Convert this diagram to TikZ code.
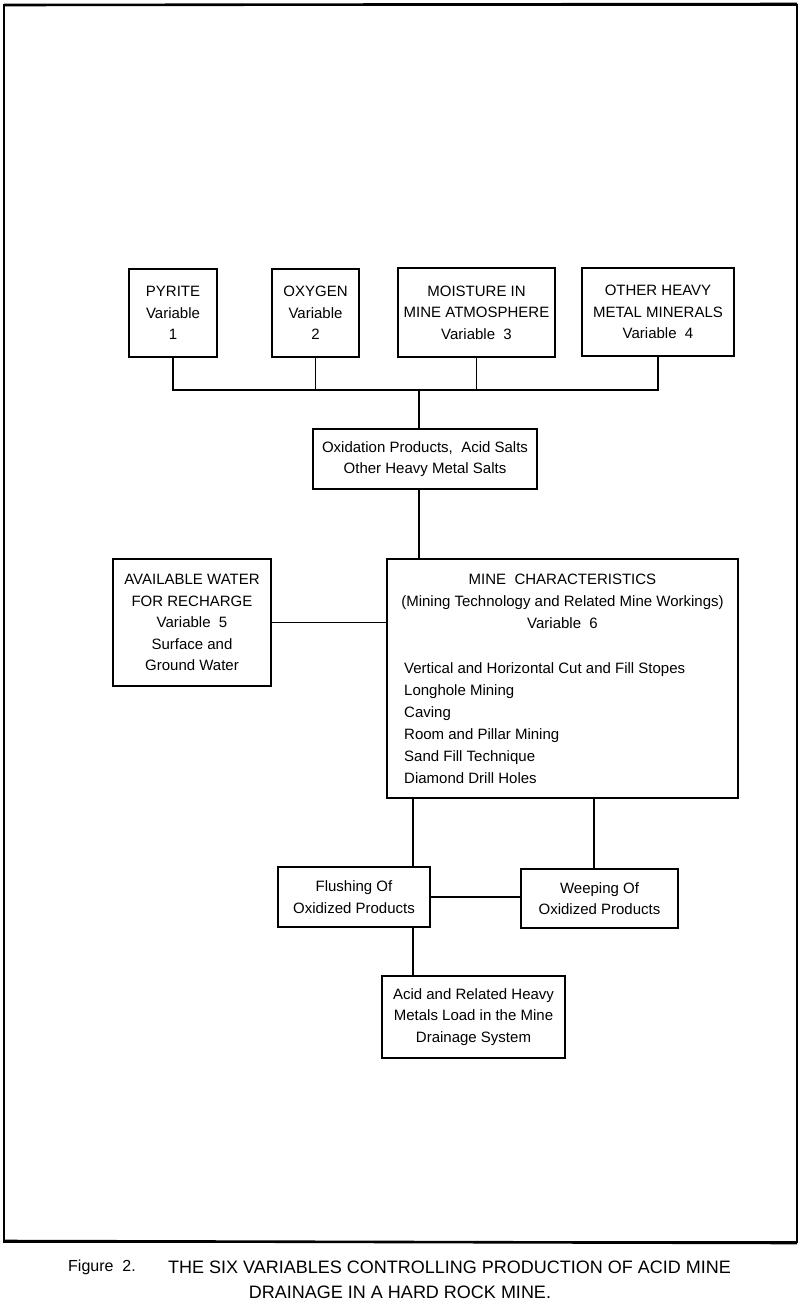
\documentclass[tikz,border=0pt]{standalone}
\usepackage{fontspec}
\setmainfont{Liberation Sans}
\begin{document}
\begin{tikzpicture}[x=1pt,y=-1pt,
  box/.style={draw, line width=1.6pt, inner sep=0pt, align=center,
              font=\fontsize{15}{21.5}\selectfont},
  txt/.style={inner sep=0pt, font=\fontsize{15}{22}\selectfont},
  conn/.style={line width=1.4pt},
  busline/.style={line width=2pt},
  frameline/.style={line width=1.8pt},
  captxt/.style={inner sep=0pt, font=\fontsize{18}{26}\selectfont}]
\useasboundingbox (0,0) rectangle (800,1307);
% outer frame
\draw[frameline] (4,5) rectangle (797,1242);
\draw[line width=2.6pt] (4,5) -- (797,4);
\draw[line width=2.6pt] (4,1241) -- (797,1243);
% top row
\node[box, minimum width=88pt, minimum height=88pt] (pyrite) at (173,313)
  {PYRITE\\Variable\\1};
\node[box, minimum width=87pt, minimum height=88pt] (oxygen) at (315.5,313)
  {OXYGEN\\Variable\\2};
\node[box, minimum width=157pt, minimum height=89pt] (moist) at (476.5,312.5)
  {MOISTURE IN\\MINE ATMOSPHERE\\Variable~~3};
\node[box, minimum width=152pt, minimum height=88pt] (other) at (658,312)
  {OTHER HEAVY\\METAL MINERALS\\Variable~~4};
% oxidation
\node[box, minimum width=224pt, minimum height=60pt] (oxid) at (425,459)
  {Oxidation Products,~ Acid Salts\\Other Heavy Metal Salts};
% water and mine
\node[box, minimum width=158pt, minimum height=127pt] (avail) at (192,622.5)
  {AVAILABLE WATER\\FOR RECHARGE\\Variable~~5\\Surface and\\Ground Water};
\node[box, minimum width=351pt, minimum height=239pt] (mine) at (562.5,678.5) {};
\node[txt, align=center] (minehead) at (562.5,601)
  {MINE~~CHARACTERISTICS\\(Mining Technology and Related Mine Workings)\\Variable~~6};
\node[txt, align=left, anchor=west] (minelist) at (404,723)
  {Vertical and Horizontal Cut and Fill Stopes\\Longhole Mining\\Caving\\Room and Pillar Mining\\Sand Fill Technique\\Diamond Drill Holes};
% lower
\node[box, minimum width=152pt, minimum height=60pt] (flush) at (354,897)
  {Flushing Of\\Oxidized Products};
\node[box, minimum width=157pt, minimum height=59pt] (weep) at (599.5,898.5)
  {Weeping Of\\Oxidized Products};
\node[box, minimum width=183pt, minimum height=82pt] (load) at (473.5,1017)
  {Acid and Related Heavy\\Metals Load in the Mine\\Drainage System};
% helper coordinates
\coordinate (buspt) at (419,390);
\coordinate (xa) at (413,0);
\coordinate (xb) at (594,0);
% connectors
\draw[busline] (pyrite.south) -- (pyrite.south |- buspt) -- (other.south |- buspt) -- (other.south);
\draw[conn] (oxygen.south) -- (oxygen.south |- buspt);
\draw[conn] (moist.south) -- (moist.south |- buspt);
\draw[conn] (buspt) -- (buspt |- oxid.north);
\draw[conn] (buspt |- oxid.south) -- (buspt |- mine.north);
\draw[conn] (avail.east) -- (avail.east -| mine.west);
\draw[conn] (mine.south -| xa) -- (flush.north -| xa);
\draw[conn] (mine.south -| xb) -- (weep.north -| xb);
\draw[busline] (flush.east) -- (flush.east -| weep.west);
\draw[conn] (flush.south -| xa) -- (load.north -| xa);
% caption
\node[captxt, anchor=west, font=\fontsize{16}{20}\selectfont] (figlabel) at (68,1267) {Figure~~2.};
\node[captxt, anchor=west] (cap1) at (168,1267) {THE SIX VARIABLES CONTROLLING PRODUCTION OF ACID MINE};
\node[captxt] (cap2) at (400,1292) {DRAINAGE IN A HARD ROCK MINE.};
\end{tikzpicture}
\end{document}
